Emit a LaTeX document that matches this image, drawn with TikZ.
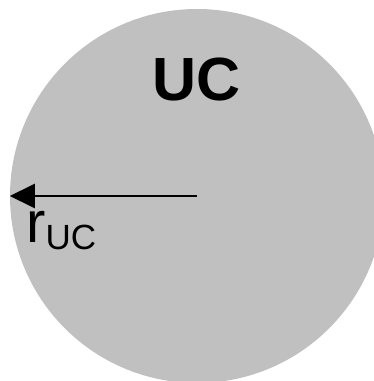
\documentclass[tikz,border=0pt]{standalone}
\usepackage{fontspec}
\setmainfont{Liberation Sans}
\usetikzlibrary{arrows.meta}
\begin{document}
\begin{tikzpicture}[x=1pt,y=1pt,
  cell/.style={circle, fill={rgb,255:red,192;green,192;blue,192}, inner sep=0pt, minimum size=374pt},
  radius arrow/.style={draw, line width=2.4pt, -{Triangle[length=25pt,width=24pt]}}]
\useasboundingbox (0,0) rectangle (374,381);
\clip (0,0) rectangle (374,381);
\node[cell] (uc) at (197,185) {};
\coordinate (c) at (197,185);

\node[font=\fontsize{61}{61}\selectfont\bfseries] (title) at (197,301) {UC};
\path[radius arrow] (c) -- (uc.west);
\node[anchor=base west, inner sep=0pt, font=\fontsize{58}{58}\selectfont] (r) at (26,138) {r\raisebox{-7pt}{\fontsize{35}{35}\selectfont UC}};
\end{tikzpicture}
\end{document}
